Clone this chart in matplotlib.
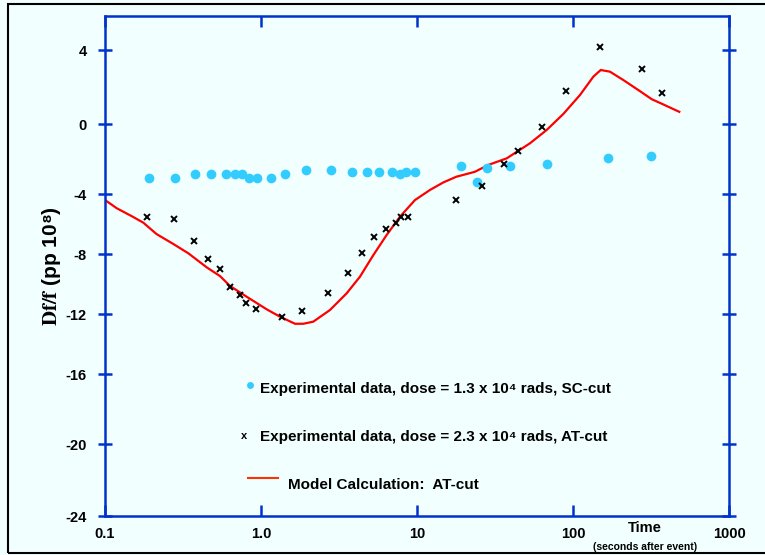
import numpy as np
import matplotlib
matplotlib.use('Agg')
import matplotlib.pyplot as plt
from matplotlib.lines import Line2D
from matplotlib.patches import Rectangle

plt.rcParams['font.family'] = ['Liberation Sans', 'DejaVu Sans']
plt.rcParams['mathtext.fontset'] = 'stix'

# SC-cut, dose 1.3e4 rads
sc_time = [0.191, 0.281, 0.378, 0.478, 0.597, 0.681, 0.755, 0.838, 0.943, 1.16,
           1.42, 1.94, 2.81, 3.83, 4.78, 5.71, 6.92, 7.78, 8.50, 9.71,
           19.1, 24.2, 28.1, 39.5, 68.1, 167.6, 316]
sc_df = [-3.10, -3.10, -2.86, -2.86, -2.84, -2.84, -2.84, -3.09, -3.09, -3.09,
         -2.86, -2.65, -2.65, -2.76, -2.76, -2.76, -2.76, -2.84, -2.76, -2.76,
         -2.38, -3.31, -2.51, -2.38, -2.29, -1.93, -1.83]

# AT-cut, dose 2.3e4 rads
at_time = [0.185, 0.277, 0.374, 0.457, 0.546, 0.636, 0.733, 0.802, 0.925, 1.36,
           1.83, 2.69, 3.61, 4.46, 5.30, 6.33, 7.33, 7.87, 8.80,
           17.8, 26.1, 36.1, 44.6, 63.5, 90.2, 149.6, 276.7, 373.4]
at_df = [-5.55, -5.69, -7.13, -8.33, -8.98, -10.2, -10.75, -11.29, -11.69, -12.18,
         -11.82, -10.62, -9.27, -7.95, -6.89, -6.33, -5.91, -5.55, -5.55,
         -4.4, -3.53, -2.29, -1.56, -0.19, 1.77, 4.15, 2.96, 1.66]

# model calculation, AT-cut
model_time = [0.1, 0.119, 0.148, 0.176, 0.214, 0.274, 0.342, 0.449, 0.546, 0.633,
              0.810, 1.089, 1.324, 1.652, 1.867, 2.163, 2.77, 3.54, 4.31, 5.25,
              6.39, 7.78, 9.71, 12.1, 14.8, 17.9, 23.5, 28.6, 37.6, 53.0,
              67.8, 86.6, 110.9, 135, 150.6, 172.6, 210, 262, 320, 379, 480]
model_df = [-4.4, -4.95, -5.47, -5.91, -6.67, -7.33, -7.95, -8.89, -9.47, -10.13,
            -10.85, -11.69, -12.18, -12.65, -12.65, -12.51, -11.73, -10.62, -9.51, -8.07,
            -6.73, -5.51, -4.4, -3.77, -3.33, -3.01, -2.73, -2.34, -1.96, -1.10,
            -0.34, 0.54, 1.57, 2.56, 2.92, 2.83, 2.38, 1.84, 1.34, 1.06, 0.66]

yticks = [4, 0, -4, -8, -12, -16, -20, -24]
xticks = [0.1, 1, 10, 100, 1000]
xtick_labels = ['0.1', '1.0', '10', '100', '1000']

# the original y axis is unevenly spaced, keep its tick spacing
scale_vals = np.array([-40, -24, -20, -16, -12, -8, -4, 0, 4, 20])
scale_pos = -np.array([804, 516, 444, 374, 314, 254, 194, 124, 50, -246], dtype=float)

def fwd(v):
    return np.interp(v, scale_vals, scale_pos)

def inv(p):
    return np.interp(p, scale_pos, scale_vals)

bg = '#f2ffff'
blue = '#0033cc'
W, H = 765, 555

fig = plt.figure(figsize=(7.65, 5.55), dpi=100, facecolor=bg)
ax = fig.add_axes([105 / W, 1 - 516 / H, 624 / W, 500 / H], facecolor=bg)

ax.plot(model_time, model_df, color='#ff0000', lw=1.6, zorder=2)
ax.plot(sc_time, sc_df, 'o', color='#33ccff', ms=7, mec='none', zorder=3)
ax.plot(at_time, at_df, 'x', color='black', ms=4.8, mew=1.4, zorder=4)

ax.set_xscale('log')
ax.set_yscale('function', functions=(fwd, inv))
ax.set_xlim(0.1, 1000)
ax.set_ylim(-24, 5.84)
ax.set_xticks(xticks)
ax.set_xticklabels(xtick_labels)
ax.xaxis.set_minor_locator(matplotlib.ticker.NullLocator())
ax.yaxis.set_minor_locator(matplotlib.ticker.NullLocator())
ax.set_yticks(yticks)
ax.set_yticklabels([str(t) for t in yticks])

for s in ax.spines.values():
    s.set_color(blue)
    s.set_linewidth(1.8)
ax.tick_params(axis='both', which='major', color=blue, width=1.8, labelsize=10.5)
ax.tick_params(axis='x', direction='in', length=8, top=True, pad=8)
ax.tick_params(axis='y', direction='inout', length=10, right=True, pad=8)
for lab in ax.get_xticklabels() + ax.get_yticklabels():
    lab.set_fontweight('bold')

ax.set_ylabel(r'$\mathbf{Df/f}$ (pp 10⁸)', fontsize=15, fontweight='bold', labelpad=2)

fig.text(645 / W, 1 - 528 / H, 'Time', ha='center', va='center', fontsize=10.5, fontweight='bold')
fig.text(645 / W, 1 - 547 / H, '(seconds after event)', ha='center', va='center', fontsize=7.5, fontweight='bold')

# legend drawn by hand, as in the original slide
leg_font = dict(fontsize=11, fontweight='bold', va='center', ha='left')
fig.add_artist(Line2D([250 / W], [1 - 385 / H], marker='o', color='#33ccff', ms=5, mec='none', ls='none'))
fig.text(260 / W, 1 - 389 / H, 'Experimental data, dose = 1.3 x 10⁴ rads, SC-cut', **leg_font)
fig.text(244 / W, 1 - 436 / H, 'x', fontsize=8, fontweight='bold', ha='center', va='center')
fig.text(260 / W, 1 - 437 / H, 'Experimental data, dose = 2.3 x 10⁴ rads, AT-cut', **leg_font)
fig.add_artist(Line2D([248 / W, 278 / W], [1 - 478 / H, 1 - 478 / H], color='#ff3300', lw=1.5))
fig.text(288 / W, 1 - 485 / H, 'Model Calculation:  AT-cut', **leg_font)

# slide frame
fig.add_artist(Rectangle((8 / W, 1 - 553 / H), 800 / W, 549 / H, transform=fig.transFigure,
                         fill=False, ec='black', lw=1.5))

fig.savefig('out.png', dpi=100, facecolor=bg)
